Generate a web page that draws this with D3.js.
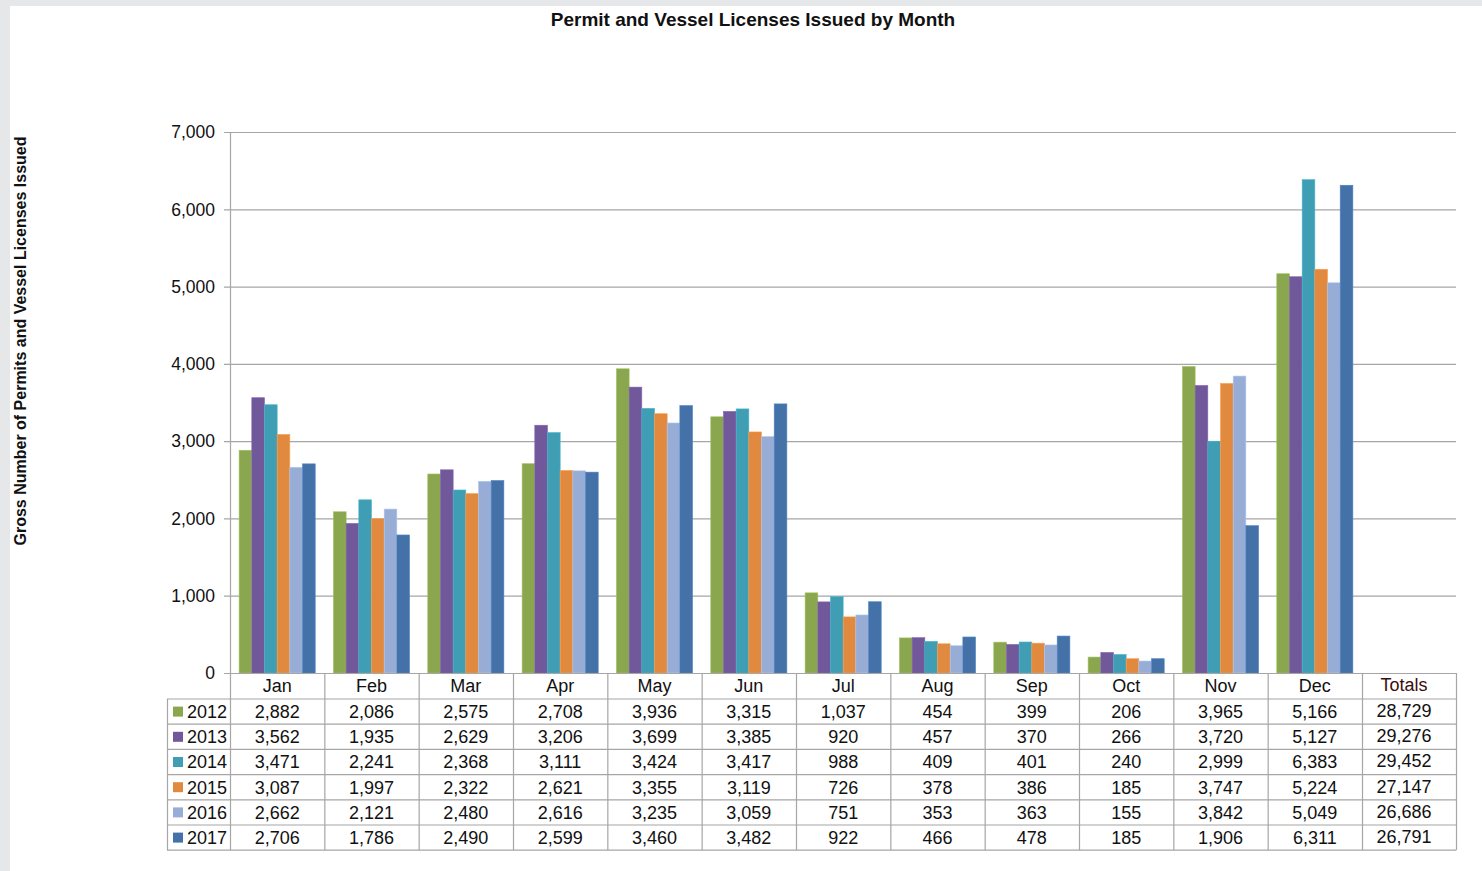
<!DOCTYPE html>
<html><head><meta charset="utf-8">
<script src="https://cdn.jsdelivr.net/npm/d3@7"></script>
<style>
html,body{margin:0;padding:0;background:#e6e7e8;}
svg{display:block;font-family:"Liberation Sans",Arial,sans-serif;}
</style></head>
<body><svg id="c" width="1482" height="871"></svg>
<script>
const months = ["Jan","Feb","Mar","Apr","May","Jun","Jul","Aug","Sep","Oct","Nov","Dec"];
const years = ["2012","2013","2014","2015","2016","2017"];
const v2012 = [2882,2086,2575,2708,3936,3315,1037,454,399,206,3965,5166];
const v2013 = [3562,1935,2629,3206,3699,3385,920,457,370,266,3720,5127];
const v2014 = [3471,2241,2368,3111,3424,3417,988,409,401,240,2999,6383];
const v2015 = [3087,1997,2322,2621,3355,3119,726,378,386,185,3747,5224];
const v2016 = [2662,2121,2480,2616,3235,3059,751,353,363,155,3842,5049];
const v2017 = [2706,1786,2490,2599,3460,3482,922,466,478,185,1906,6311];
const totals = [28729,29276,29452,27147,26686,26791];
const yTicks = [0,1000,2000,3000,4000,5000,6000,7000];
const colors = ["#8aa74f","#71589a","#3f9db4","#e0893f","#97add6","#4472a8"];

(function(){
const series = [v2012,v2013,v2014,v2015,v2016,v2017];
const svg = d3.select("#c");
svg.append("rect").attr("x",10).attr("y",6).attr("width",1472).attr("height",865).attr("fill","#fff");

const pLeft = 230, pRight = 1456, pTop = 132, pBottom = 673;
const x = d3.scaleBand().domain(months).range([pLeft, 1362]).paddingInner(0).paddingOuter(0);
const xi = d3.scaleBand().domain(years).range([0, x.bandwidth()]).paddingOuter(0.72).paddingInner(0);
const y = d3.scaleLinear().domain([0,7000]).range([pBottom, pTop]);
const fmt = d3.format(",");

svg.append("g").selectAll("line").data(yTicks).join("line")
  .attr("x1",224).attr("x2",pRight).attr("y1",d=>y(d)+0.5).attr("y2",d=>y(d)+0.5)
  .attr("stroke","#a6a6a6").attr("stroke-width",1.2);
svg.append("line").attr("x1",pLeft+0.5).attr("x2",pLeft+0.5).attr("y1",pTop).attr("y2",pBottom)
  .attr("stroke","#a6a6a6").attr("stroke-width",1.2);
svg.append("g").selectAll("text").data(yTicks).join("text")
  .attr("x",215).attr("y",d=>y(d)).attr("dy","0.36em").attr("text-anchor","end")
  .attr("font-size",17.5).attr("fill","#111").text(d=>fmt(d));

const g = svg.append("g");
years.forEach((yr,si)=>{
  g.append("g").selectAll("rect").data(series[si]).join("rect")
    .attr("x",(d,i)=>x(months[i])+xi(yr))
    .attr("width",xi.bandwidth())
    .attr("y",d=>y(d))
    .attr("height",d=>pBottom-y(d))
    .attr("fill",colors[si])
    .attr("stroke",d3.color(colors[si]).brighter(0.4))
    .attr("stroke-width",0.6);
});

const rowTop = 673, headH = 26, rowH = 25.2;
const tableLeft = 167, totX0 = 1362, totX1 = pRight;
const totCx = 1404;
const tg = svg.append("g");
const lineC = "#a6a6a6";
const hLines = [];
for (let r=0;r<=6;r++) hLines.push(rowTop+headH+r*rowH);
tg.selectAll(".h").data(hLines).join("line")
  .attr("x1",tableLeft).attr("x2",totX1).attr("y1",d=>d).attr("y2",d=>d)
  .attr("stroke",lineC).attr("stroke-width",1.2);
tg.append("line").attr("x1",pLeft).attr("x2",totX1).attr("y1",rowTop+0.5).attr("y2",rowTop+0.5).attr("stroke",lineC).attr("stroke-width",1.2);
const vX = months.map(m=>x(m)).concat([totX0, totX1]);
tg.selectAll(".v").data(vX).join("line")
  .attr("x1",d=>d+0.5).attr("x2",d=>d+0.5).attr("y1",rowTop).attr("y2",hLines[6])
  .attr("stroke",lineC).attr("stroke-width",1.2);
tg.append("line").attr("x1",tableLeft+0.5).attr("x2",tableLeft+0.5).attr("y1",hLines[0]).attr("y2",hLines[6]).attr("stroke",lineC).attr("stroke-width",1.2);

tg.selectAll(".mh").data(months).join("text")
  .attr("x",d=>x(d)+x.bandwidth()/2).attr("y",rowTop+headH/2).attr("dy","0.36em")
  .attr("text-anchor","middle").attr("font-size",18).attr("fill","#111").text(d=>d);
tg.append("text").attr("x",totCx).attr("y",rowTop+headH/2-1).attr("dy","0.36em")
  .attr("text-anchor","middle").attr("font-size",18).attr("fill","#3a0d0d").text("Totals");

years.forEach((yr,si)=>{
  const cy = hLines[si] + rowH/2;
  tg.append("rect").attr("x",173).attr("y",cy-5).attr("width",10).attr("height",10).attr("fill",colors[si]);
  tg.append("text").attr("x",187).attr("y",cy).attr("dy","0.36em").attr("font-size",18).attr("fill","#111").text(yr);
  tg.append("g").selectAll("text").data(series[si]).join("text")
    .attr("x",(d,i)=>x(months[i])+x.bandwidth()/2).attr("y",cy).attr("dy","0.36em")
    .attr("text-anchor","middle").attr("font-size",18).attr("fill","#111").text(d=>fmt(d));
  tg.append("text").attr("x",totCx).attr("y",cy-1).attr("dy","0.36em")
    .attr("text-anchor","middle").attr("font-size",18).attr("fill","#111").text(fmt(totals[si]));
});

svg.append("text").attr("x",753).attr("y",19).attr("dy","0.36em").attr("text-anchor","middle")
  .attr("font-size",19).attr("font-weight","bold").attr("fill","#111")
  .text("Permit and Vessel Licenses Issued by Month");
svg.append("text").attr("transform","translate(20,341) rotate(-90)").attr("dy","0.36em")
  .attr("text-anchor","middle").attr("font-size",16).attr("font-weight","bold").attr("fill","#111")
  .text("Gross Number of Permits and Vessel Licenses Issued");
})();
</script></body></html>
